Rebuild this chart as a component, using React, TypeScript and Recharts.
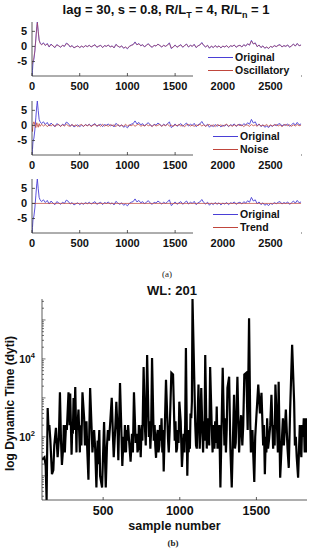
import React from 'react';
import { LineChart, Line, XAxis, YAxis, Legend, Label } from 'recharts';

const FONT = '"Liberation Sans", Arial, Helvetica, sans-serif';
const AXIS = '#333';
const TXT = '#111';
const BLUE = '#4a3fd6';
const RED = '#c0463c';

// ---------- panel (a): decomposition ----------
const samples = [
  0, 5, 10, 20, 30, 40, 50, 56, 65, 75, 85, 100, 120,
  140, 160, 180, 200, 220, 240, 260, 280, 300, 320,
  340, 360, 380, 400, 420, 440, 460, 480, 500, 520,
  540, 560, 580, 600, 620, 640, 660, 680, 700, 720,
  740, 760, 780, 800, 820, 840, 860, 880, 900, 920,
  940, 960, 980, 1000, 1020, 1040, 1060, 1080, 1100, 1120,
  1140, 1160, 1180, 1200, 1220, 1240, 1260, 1280, 1300, 1320,
  1340, 1360, 1380, 1400, 1420, 1440, 1460, 1480, 1500, 1520,
  1540, 1560, 1580, 1600, 1620, 1640, 1660, 1680, 1700, 1720,
  1740, 1760, 1780, 1800, 1820, 1840, 1860, 1880, 1900, 1920,
  1940, 1960, 1980, 2000, 2020, 2040, 2060, 2080, 2100, 2120,
  2140, 2160, 2180, 2200, 2220, 2240, 2260, 2280, 2300, 2320,
  2340, 2360, 2380, 2400, 2420, 2440, 2460, 2480, 2500, 2520,
  2540, 2560, 2580, 2600, 2620, 2640, 2660, 2680, 2700, 2720,
  2740, 2760, 2780, 2800, 2820,
];

const original = [
  -9.8, -8.0, -5.5, -4.2, -1.5, 2.5, 6.5, 8.1, 5.0, 2.0, 1.2, 0.6, 1.2,
  0.3, 1.0, -0.2, 0.8, 0.1, -0.4, 0.6, 0.2, -0.3, 0.4,
  0.0, 1.1, 0.7, -0.2, 0.3, -0.5, -0.1, 0.2, -0.4, 0.1,
  -0.3, 0.3, -0.1, 0.4, -0.2, 0.2, 0.6, -0.3, 0.1, 0.4,
  -0.4, 0.3, 0.0, 0.5, -0.2, 0.2, -0.5, 0.7, 0.1, -0.3,
  0.2, -0.6, -0.2, -0.8, 0.0, 0.4, 0.6, 1.5, 0.5, 1.0,
  0.2, 0.6, -0.2, 0.5, 0.9, 0.1, -0.3, 0.4, 0.1, 0.8,
  0.3, -0.2, 0.4, 0.0, 0.5, 1.2, -0.7, -0.2, 0.5, -0.3,
  0.2, 0.6, -0.3, 0.3, 0.8, -0.2, 0.4, 0.0, 0.7, -0.4,
  0.2, 0.5, 1.3, 0.3, -0.2, 0.4, -0.6, 0.1, -0.4, 0.3,
  -0.3, 0.2, -0.5, 0.1, -0.2, 0.3, -0.4, 0.2, 0.0, 0.5,
  -0.3, 0.2, 0.4, -0.2, 0.6, 0.1, 0.9, 0.4, 2.0, 0.8,
  1.2, -0.1, 0.5, -0.4, 0.2, -0.6, -0.2, -0.7, 0.0, -0.3,
  0.3, -0.1, 0.4, 0.6, -0.2, 0.3, 0.0, 0.5, -0.3, 0.2,
  0.8, 0.1, 1.0, 0.2, 0.5,
];

const oscillatory = [
  -6.0, -5.4, -4.8, -3.6, -1.4, 2.2, 6.0, 7.9, 5.2, 2.2, 1.0, 0.5, 1.0,
  0.4, 0.8, -0.1, 0.6, 0.2, -0.3, 0.5, 0.2, -0.2, 0.3,
  0.1, 0.9, 0.7, -0.1, 0.2, -0.4, -0.1, 0.1, -0.3, 0.1,
  -0.2, 0.2, 0.0, 0.3, -0.1, 0.2, 0.5, -0.2, 0.1, 0.3,
  -0.3, 0.2, 0.1, 0.4, -0.1, 0.1, -0.4, 0.6, 0.1, -0.2,
  0.1, -0.5, -0.2, -0.6, 0.0, 0.3, 0.6, 1.3, 0.6, 0.8,
  0.3, 0.5, -0.1, 0.4, 0.8, 0.1, -0.2, 0.3, 0.2, 0.7,
  0.3, -0.1, 0.3, 0.1, 0.4, 1.0, -0.5, -0.2, 0.4, -0.2,
  0.1, 0.5, -0.2, 0.3, 0.7, -0.1, 0.3, 0.1, 0.6, -0.3,
  0.2, 0.5, 1.1, 0.4, -0.1, 0.3, -0.5, 0.1, -0.3, 0.2,
  -0.2, 0.1, -0.4, 0.1, -0.1, 0.2, -0.3, 0.2, 0.1, 0.4,
  -0.2, 0.2, 0.3, -0.1, 0.5, 0.2, 0.8, 0.5, 1.8, 0.9,
  1.0, 0.0, 0.4, -0.3, 0.1, -0.5, -0.2, -0.6, 0.0, -0.2,
  0.2, 0.0, 0.3, 0.5, -0.1, 0.2, 0.1, 0.4, -0.2, 0.2,
  0.7, 0.2, 0.9, 0.3, 0.4,
];

const noise = [
  -1.1, -2.0, 0.4, 1.2, 0.2, -0.7, 0.9, 0.3, -0.6, 0.6, -0.3, 0.4, -0.2,
  0.3, -0.4, 0.2, -0.2, 0.4, -0.3, 0.1, 0.3, -0.3, 0.2,
  -0.2, 0.4, -0.1, -0.3, 0.3, -0.2, 0.2, -0.4, 0.1, 0.3,
  -0.3, 0.2, -0.1, 0.3, -0.4, 0.1, 0.3, -0.2, 0.2, -0.3,
  0.4, -0.2, 0.1, -0.3, 0.3, -0.1, 0.2, -0.4, 0.3, -0.2,
  0.1, -0.3, 0.4, -0.2, 0.2, -0.1, 0.3, -0.3, 0.2, 0.4,
  -0.3, 0.1, -0.2, 0.3, -0.1, 0.2, -0.4, 0.3, -0.2, 0.1,
  0.3, -0.3, 0.2, -0.1, 0.4, -0.2, 0.1, -0.3, 0.2, -0.1,
  0.3, -0.2, 0.1, -0.4, 0.2, 0.3, -0.2, 0.1, -0.3, 0.2,
  -0.1, 0.4, -0.2, 0.2, -0.3, 0.1, 0.3, -0.2, 0.2, -0.4,
  0.3, -0.1, 0.2, -0.3, 0.1, 0.4, -0.2, 0.1, -0.3, 0.2,
  -0.2, 0.3, -0.1, 0.2, -0.4, 0.2, 0.1, -0.3, 0.3, -0.1,
  0.2, -0.3, 0.4, -0.2, 0.1, -0.1, 0.3, -0.3, 0.2, -0.2,
  0.1, 0.3, -0.2, 0.2, -0.4, 0.1, 0.3, -0.1, 0.2, -0.3,
  0.2, -0.2, 0.3, -0.1, 0.1,
];

const trendSamples = [0, 2820];
const trendValues = [0, 0];

const topXTicks = [0, 500, 1000, 1500, 2000, 2500];
const topYTicks = [-5, 0, 5];

// ---------- panel (b): dynamic time, WL 201 ----------
const dytiSamples = [
  101, 117, 125, 131, 138, 144, 149, 155, 166, 175,
  181, 192, 203, 211, 218, 225, 231, 240, 243, 246,
  250, 253, 258, 263, 274, 281, 285, 294, 298, 302,
  307, 311, 318, 326, 329, 331, 339, 348, 350, 353,
  358, 365, 376, 381, 386, 391, 396, 404, 409, 415,
  425, 430, 435, 441, 448, 456, 464, 467, 470, 475,
  480, 493, 506, 517, 525, 531, 538, 545, 556, 564,
  569, 574, 580, 586, 594, 599, 610, 620, 625, 633,
  637, 642, 649, 653, 658, 663, 668, 679, 688, 694,
  701, 712, 720, 724, 729, 733, 740, 745, 751, 756,
  764, 772, 778, 787, 798, 803, 808, 813, 819, 830,
  836, 840, 845, 850, 856, 861, 867, 871, 876, 881,
  886, 890, 895, 910, 923, 928, 934, 945, 956, 967,
  972, 977, 982, 987, 992, 997, 1006, 1014, 1025, 1030,
  1035, 1040, 1049, 1055, 1058, 1062, 1066, 1070, 1075, 1079,
  1083, 1092, 1101, 1106, 1111, 1116, 1122, 1130, 1135, 1140,
  1148, 1152, 1157, 1161, 1166, 1176, 1181, 1187, 1192, 1198,
  1209, 1214, 1218, 1222, 1226, 1231, 1236, 1241, 1246, 1252,
  1258, 1265, 1280, 1291, 1296, 1301, 1306, 1311, 1322, 1330,
  1339, 1354, 1360, 1365, 1376, 1387, 1393, 1400, 1408, 1414,
  1421, 1434, 1443, 1452, 1460, 1464, 1469, 1474, 1480, 1486,
  1492, 1499, 1512, 1523, 1533, 1544, 1549, 1555, 1561, 1565,
  1570, 1576, 1583, 1590, 1598, 1609, 1615, 1619, 1624, 1636,
  1640, 1645, 1655, 1668, 1673, 1679, 1685, 1692, 1703, 1711,
  1720, 1733, 1746, 1751, 1757, 1763, 1772, 1783, 1788, 1793,
  1798, 1804, 1809, 1815, 1819, 1823, 1827, 1830,
];
const dytiValues = [
  26, 30, 18, 2.4, 550, 150, 200, 90, 11, 14,
  60, 170, 30, 90, 1400, 80, 19, 60, 200, 120,
  40, 80, 200, 150, 1400, 200, 1300, 35, 150, 120,
  1000, 150, 1900, 40, 300, 150, 500, 40, 200, 120,
  60, 1400, 300, 60, 100, 250, 50, 8, 100, 1800,
  150, 40, 80, 150, 50, 5, 80, 20, 60, 150,
  10, 5, 240, 5, 60, 150, 80, 200, 1000, 100,
  30, 70, 200, 800, 150, 25, 2400, 100, 18, 100,
  40, 200, 40, 150, 80, 200, 93, 23, 120, 40,
  1400, 70, 120, 40, 50, 200, 100, 30, 200, 80,
  6200, 200, 60, 12600, 100, 250, 50, 150, 10600, 80,
  200, 60, 29, 100, 150, 40, 60, 200, 80, 300,
  40, 150, 13, 2900, 90, 40, 150, 4400, 4000, 80,
  250, 40, 50, 150, 70, 800, 250, 17, 120, 40,
  200, 19000, 10, 150, 40, 120, 50, 400, 300, 800,
  345000, 8300, 200, 60, 50, 300, 2200, 50, 200, 1800,
  120, 40, 250, 80, 12600, 50, 300, 200, 60, 6200,
  150, 40, 200, 80, 50, 250, 70, 600, 50, 80,
  200, 5, 5900, 60, 300, 40, 150, 1800, 3500, 50,
  5, 1200, 50, 70, 3500, 40, 150, 360, 60, 200,
  4000, 4400, 150, 110000, 200, 40, 60, 150, 30, 7,
  100, 300, 2200, 400, 1350, 60, 200, 11, 100, 40,
  300, 50, 90, 200, 1200, 50, 200, 60, 2200, 120,
  40, 2600, 9, 120, 300, 60, 150, 500, 50, 16,
  500, 23000, 800, 60, 100, 30, 9, 200, 60, 30,
  200, 100, 300, 40, 150, 300, 40, 50,
];
const bottomXTicks = [500, 1000, 1500];
const logTicks = [
  3, 4, 5, 6, 7, 8, 9, 10, 20, 30, 40, 50, 60, 70, 80, 90,
  100, 200, 300, 400, 500, 600, 700, 800, 900,
  1000, 2000, 3000, 4000, 5000, 6000, 7000, 8000, 9000,
  10000, 20000, 30000, 40000, 50000, 60000, 70000, 80000, 90000,
  100000, 200000, 300000,
];
const logLabels: Record<number, string> = { 100: '2', 10000: '4' };

const toRows = (xs: number[], vs: number[]) =>
  xs.map((t, i) => ({ t, v: vs[i] ?? null }));

// ---------- ticks ----------
const TOP_XM = 6;
const TOP_YM = 5;
const TopXTick = (props: any) => {
  const { x, y, payload } = props;
  const ay = y - TOP_XM;
  return (
    <g>
      <line x1={x} x2={x} y1={ay} y2={ay - 3} stroke={AXIS} strokeWidth={0.8} />
      <text x={x} y={y} dy="0.71em" textAnchor="middle" fontFamily={FONT} fontWeight="bold" fontSize={11} fill={TXT}>
        {payload.value}
      </text>
    </g>
  );
};
const TopYTick = (props: any) => {
  const { x, y, payload } = props;
  const ax = x + TOP_YM;
  return (
    <g>
      <line x1={ax} x2={ax + 3} y1={y} y2={y} stroke={AXIS} strokeWidth={0.8} />
      <text x={x} y={y} dy="0.36em" textAnchor="end" fontFamily={FONT} fontWeight="bold" fontSize={11} fill={TXT}>
        {payload.value}
      </text>
    </g>
  );
};

const B_XM = 6;
const B_YM = 7;
const BottomXTick = (props: any) => {
  const { x, y, payload } = props;
  const ay = y - B_XM;
  return (
    <g>
      <line x1={x} x2={x} y1={ay} y2={ay - 3} stroke={AXIS} strokeWidth={0.8} />
      <text x={x} y={y} dy="0.71em" textAnchor="middle" fontFamily={FONT} fontWeight="bold" fontSize={12.5} fill={TXT}>
        {payload.value}
      </text>
    </g>
  );
};
const LogYTick = (props: any) => {
  const { x, y, payload } = props;
  const ax = x + B_YM;
  const v = payload.value;
  const exp = logLabels[v];
  const isDecade = [10, 100, 1000, 10000, 100000].includes(v);
  return (
    <g>
      <line x1={ax} x2={ax + (isDecade ? 3.5 : 2)} y1={y} y2={y} stroke={AXIS} strokeWidth={0.7} />
      {exp && (
        <text x={x} y={y} dy="0.36em" textAnchor="end" fontFamily={FONT} fontWeight="bold" fontSize={10.5} fill={TXT}>
          10<tspan dy={-5} fontSize={7.5}>{exp}</tspan>
        </text>
      )}
    </g>
  );
};

// ---------- legend ----------
const makeLegend = (names: string[], colors: string[], pad: number) => () => (
  <div
    style={{
      background: '#fff',
      width: 108,
      height: 29,
      boxSizing: 'border-box',
      paddingLeft: pad,
      paddingTop: 1,
      fontFamily: FONT,
      fontWeight: 'bold',
      fontSize: 10.5,
      color: TXT,
    }}
  >
    {names.map((n, i) => (
      <div key={n} style={{ display: 'flex', alignItems: 'center', height: 13, lineHeight: '13px' }}>
        <svg width={25} height={13} style={{ display: 'block' }}>
          <line x1={0} x2={25} y1={6.5} y2={6.5} stroke={colors[i]} strokeWidth={1} />
        </svg>
        <span style={{ marginLeft: 2, whiteSpace: 'nowrap' }}>{n}</span>
      </div>
    ))}
  </div>
);

const origRows = toRows(samples, original);

function TopPanel(props: { top: number; redName: string; redRows: any[]; pad: number; redOpacity: number }) {
  const { top, redName, redRows, pad, redOpacity } = props;
  return (
    <div style={{ position: 'absolute', left: 0, top }}>
      <LineChart width={314} height={76} margin={{ top: 2, right: 12, left: 0, bottom: 0 }}>
        <XAxis
          type="number"
          dataKey="t"
          domain={[0, 2830]}
          ticks={topXTicks}
          interval={0}
          height={20}
          tickSize={0}
          tickMargin={TOP_XM}
          tickLine={false}
          axisLine={{ stroke: AXIS, strokeWidth: 0.8 }}
          tick={<TopXTick />}
          allowDataOverflow
        />
        <YAxis
          type="number"
          domain={[-9.8, 8.1]}
          ticks={topYTicks}
          interval={0}
          width={32}
          tickSize={0}
          tickMargin={TOP_YM}
          tickLine={false}
          axisLine={{ stroke: AXIS, strokeWidth: 0.8 }}
          tick={<TopYTick />}
          allowDataOverflow
        />
        <Line
          data={origRows}
          dataKey="v"
          name="Original"
          type="linear"
          stroke={BLUE}
          strokeWidth={0.9}
          dot={false}
          isAnimationActive={false}
        />
        <Line
          data={redRows}
          dataKey="v"
          name={redName}
          type="linear"
          stroke={RED}
          strokeOpacity={redOpacity}
          strokeWidth={0.9}
          dot={false}
          isAnimationActive={false}
        />
        <Legend
          layout="horizontal"
          verticalAlign="middle"
          align="center"
          wrapperStyle={{ left: 193, top: 30, width: 108, height: 29 }}
          content={makeLegend(['Original', redName], [BLUE, RED], pad)}
        />
      </LineChart>
    </div>
  );
}

const YLabel = (props: any) => {
  const vb = props.viewBox || { x: 0, y: 4, width: 42, height: 201 };
  const cx = vb.x + 10;
  const cy = vb.y + vb.height / 2 + 4;
  return (
    <text
      x={cx}
      y={cy}
      transform={`rotate(-90, ${cx}, ${cy})`}
      textAnchor="middle"
      dominantBaseline="central"
      fontFamily={FONT}
      fontWeight="bold"
      fontSize={12}
      fill={TXT}
    >
      log Dynamic Time (dyti)
    </text>
  );
};
const XLabel = (props: any) => {
  const vb = props.viewBox || { x: 42, y: 500, width: 265, height: 35 };
  return (
    <text
      x={vb.x + vb.width / 2}
      y={vb.y + 26}
      textAnchor="middle"
      dominantBaseline="central"
      fontFamily={FONT}
      fontWeight="bold"
      fontSize={12.5}
      fill={TXT}
    >
      sample number
    </text>
  );
};

export default function App() {
  const dytiRows = toRows(dytiSamples, dytiValues);
  return (
    <div style={{ position: 'absolute', left: 0, top: 0, width: 314, height: 550, background: '#fff', overflow: 'hidden' }}>
      <div
        style={{
          position: 'absolute',
          left: 166,
          top: 2,
          transform: 'translateX(-50%)',
          whiteSpace: 'nowrap',
          fontFamily: FONT,
          fontWeight: 'bold',
          fontSize: 13,
          lineHeight: '16px',
          color: TXT,
        }}
      >
        lag = 30, s = 0.8, R/L<span style={{ fontSize: 9, position: 'relative', top: 4 }}>T</span> = 4, R/L
        <span style={{ fontSize: 9, position: 'relative', top: 4 }}>n</span> = 1
      </div>

      <TopPanel top={20} redName="Oscillatory" redRows={toRows(samples, oscillatory)} pad={15} redOpacity={0.6} />
      <TopPanel top={99} redName="Noise" redRows={toRows(samples, noise)} pad={20} redOpacity={0.9} />
      <TopPanel top={177} redName="Trend" redRows={toRows(trendSamples, trendValues)} pad={20} redOpacity={0.8} />

      <div
        style={{
          position: 'absolute',
          left: 167,
          top: 268,
          transform: 'translateX(-50%)',
          fontFamily: '"Liberation Serif", "DejaVu Serif", serif',
          fontSize: 9,
          lineHeight: '12px',
          color: '#222',
        }}
      >
        (a)
      </div>

      <div
        style={{
          position: 'absolute',
          left: 172,
          top: 283,
          transform: 'translateX(-50%)',
          whiteSpace: 'nowrap',
          fontFamily: FONT,
          fontWeight: 'bold',
          fontSize: 13,
          lineHeight: '16px',
          color: TXT,
        }}
      >
        WL: 201
      </div>

      <div style={{ position: 'absolute', left: 0, top: 295 }}>
        <LineChart width={314} height={240} margin={{ top: 4, right: 7, left: 0, bottom: 0 }}>
          <XAxis
            type="number"
            dataKey="t"
            domain={[101, 1830]}
            ticks={bottomXTicks}
            interval={0}
            height={35}
            tickSize={0}
            tickMargin={B_XM}
            tickLine={false}
            axisLine={{ stroke: AXIS, strokeWidth: 0.8 }}
            tick={<BottomXTick />}
            allowDataOverflow
          >
            <Label content={<XLabel />} />
          </XAxis>
          <YAxis
            type="number"
            scale="log"
            domain={[2.4, 345000]}
            ticks={logTicks}
            interval={0}
            width={42}
            tickSize={0}
            tickMargin={B_YM}
            tickLine={false}
            axisLine={{ stroke: AXIS, strokeWidth: 0.8 }}
            tick={<LogYTick />}
            allowDataOverflow
          >
            <Label content={<YLabel />} />
          </YAxis>
          <Line
            data={dytiRows}
            dataKey="v"
            type="linear"
            stroke="#000"
            strokeWidth={2.2}
            dot={false}
            isAnimationActive={false}
          />
        </LineChart>
      </div>

      <div
        style={{
          position: 'absolute',
          left: 173,
          top: 537,
          transform: 'translateX(-50%)',
          fontFamily: '"Liberation Serif", "DejaVu Serif", serif',
          fontWeight: 'bold',
          fontSize: 9,
          lineHeight: '12px',
          color: '#222',
        }}
      >
        (b)
      </div>
    </div>
  );
}
